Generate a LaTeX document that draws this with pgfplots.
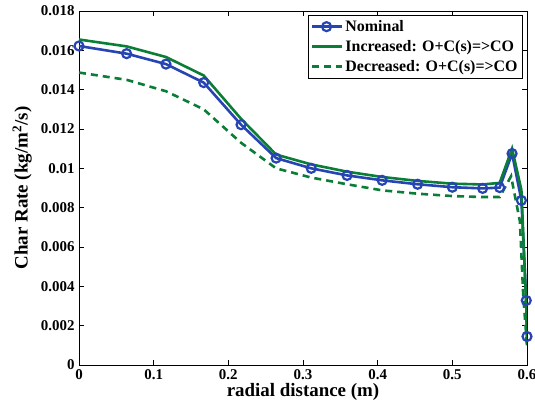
\documentclass[border=0pt]{standalone}
\usepackage{fontspec}
\setmainfont{Liberation Serif}
\usepackage{pgfplots}
\pgfplotsset{compat=1.18}
\definecolor{nomblue}{RGB}{38,68,178}
\definecolor{incgreen}{RGB}{10,125,55}
\pgfplotstableread{
x y
0      0.01622
0.0638 0.01583
0.1165 0.01530
0.167  0.01436
0.217  0.01222
0.264  0.01052
0.311  0.01000
0.359  0.00964
0.406  0.00939
0.4535 0.00919
0.500  0.00904
0.5406 0.00898
0.5634 0.00902
0.580  0.01075
0.5925 0.00837
0.599  0.00328
0.600  0.00145
}\nominal
\pgfplotstableread{
x y
0      0.01655
0.0638 0.01620
0.1165 0.01566
0.167  0.01472
0.217  0.01252
0.264  0.01070
0.311  0.01020
0.359  0.00983
0.406  0.00956
0.4535 0.00936
0.500  0.00922
0.5406 0.00918
0.5634 0.00926
0.580  0.01100
0.5925 0.00890
0.599  0.00300
0.600  0.00100
}\increased
\pgfplotstableread{
x y
0      0.01487
0.0638 0.01450
0.1165 0.01392
0.167  0.01300
0.217  0.01130
0.264  0.01000
0.311  0.00953
0.359  0.00919
0.406  0.00888
0.4535 0.00871
0.500  0.00859
0.5406 0.00854
0.5634 0.00854
0.5787 0.00960
0.5905 0.00730
0.595  0.00350
0.600  0.00100
}\decreased
\begin{document}
\begin{tikzpicture}
\begin{axis}[
  width=448bp, height=354bp, scale only axis,
  xmin=0, xmax=0.6, ymin=0, ymax=0.018,
  scaled x ticks=false, scaled y ticks=false,
  xtick={0,0.1,0.2,0.3,0.4,0.5,0.6},
  xticklabels={0,0.1,0.2,0.3,0.4,0.5,0.6},
  ytick={0,0.002,0.004,0.006,0.008,0.01,0.012,0.014,0.016,0.018},
  yticklabels={0,0.002,0.004,0.006,0.008,0.01,0.012,0.014,0.016,0.018},
  tick align=inside, major tick length=5bp,
  tick style={black, line width=0.8bp},
  axis line style={line width=0.8bp},
  ticklabel style={font=\fontsize{15}{18}\selectfont\bfseries},
  xticklabel style={yshift=-1bp},
  yticklabel style={xshift=-1bp},
  xlabel={radial distance (m)},
  ylabel={Char Rate (kg/m\textsuperscript{2}/s)},
  label style={font=\fontsize{19}{22}\selectfont\bfseries},
  xlabel style={at={(axis description cs:0.5,-0.076)}, anchor=center},
  ylabel style={at={(axis description cs:-0.127,0.5)}, anchor=center, rotate=0},
  legend style={at={(axis description cs:1,1)}, anchor=north east, xshift=-4bp, yshift=-4bp,
    font=\fontsize{16}{20}\selectfont\bfseries, draw=black, line width=0.8bp,
    inner sep=3bp, row sep=3.5bp},
  legend cell align=left,
  legend image code/.code={\draw[mark repeat=2,mark phase=2] plot coordinates {(0cm,0cm) (0.5cm,0cm) (1.05cm,0cm)};},
]
\coordinate (ll) at (rel axis cs:0,0);
\coordinate (ur) at (rel axis cs:1,1);
\addplot[nomblue, line width=2.6bp, mark=o, mark size=4.5bp, mark options={solid, line width=2.2bp}] table[x=x,y=y] {\nominal};
\addlegendentry{Nominal}
\addplot[incgreen, line width=2.6bp] table[x=x,y=y] {\increased};
\addlegendentry{Increased: O+C(s)=>CO}
\addplot[incgreen, line width=2.6bp, dash pattern=on 7bp off 5bp] table[x=x,y=y] {\decreased};
\addlegendentry{Decreased: O+C(s)=>CO}
\end{axis}
\pgfresetboundingbox
\path ([shift={(-79bp,-43bp)}]ll) rectangle ([shift={(8bp,11bp)}]ur);
\end{tikzpicture}
\end{document}
